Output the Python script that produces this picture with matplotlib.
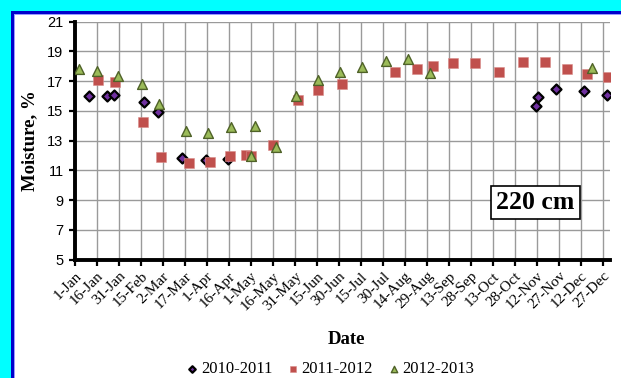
import matplotlib.pyplot as plt
from matplotlib.patches import Rectangle
from matplotlib.transforms import ScaledTranslation

# Day of year (0 = 1-Jan) and soil moisture (%) at 220 cm depth
days_2010 = [9.5, 22, 27, 47, 57, 73, 89.5, 104.5, 314.5, 316, 328, 347, 363]
moist_2010 = [16.0, 16.0, 16.05, 15.6, 14.92, 11.84, 11.7, 11.8, 15.35, 15.95, 16.5, 16.35, 16.07]

days_2011 = [15.7, 27.7, 46.8, 58.8, 78, 92, 106, 117, 120, 135, 152, 166, 182,
             218, 233, 244, 258, 273, 289, 305.5, 320.5, 335.5, 349.5, 363.5]
moist_2011 = [17.06, 16.95, 14.24, 11.88, 11.47, 11.6, 11.97, 12.04, 12.0, 12.7, 15.76, 16.39, 16.84,
              17.62, 17.85, 18.05, 18.19, 18.19, 17.6, 18.3, 18.3, 17.8, 17.5, 17.25]

days_2012 = [2.7, 15.4, 29.7, 46, 57.7, 76, 91, 106.7, 120, 123, 137.2, 150.6, 165.6,
             180.8, 196, 212.2, 227, 242.2, 352.4]
moist_2012 = [17.85, 17.67, 17.35, 16.84, 15.49, 13.64, 13.55, 13.9, 12.0, 13.97, 12.55, 16.0, 17.1,
              17.6, 17.96, 18.34, 18.52, 17.56, 17.92]

tick_days = list(range(0, 361, 15))
tick_labels = ['1-Jan', '16-Jan', '31-Jan', '15-Feb', '2-Mar', '17-Mar', '1-Apr', '16-Apr',
               '1-May', '16-May', '31-May', '15-Jun', '30-Jun', '15-Jul', '30-Jul', '14-Aug',
               '29-Aug', '13-Sep', '28-Sep', '13-Oct', '28-Oct', '12-Nov', '27-Nov', '12-Dec',
               '27-Dec']

W, H = 621, 378
fig = plt.figure(figsize=(W / 100, H / 100), dpi=100)
fig.patch.set_facecolor('white')


def strip(x0, y0, x1, y1, color):
    # rectangle given in pixels from the top-left corner
    fig.add_artist(Rectangle((x0 / W, 1 - y1 / H), (x1 - x0) / W, (y1 - y0) / H,
                             transform=fig.transFigure, facecolor=color,
                             edgecolor='none', zorder=-1))


# cyan margin with a blue frame along the top and left
strip(0, 0, W, 11, '#00FFFF')
strip(0, 0, 11, H, '#00FFFF')
strip(11, 11, W, 14, '#0000CC')
strip(11, 11, 14, H, '#0000CC')
strip(14, 14, W, 15, '#9999FF')
strip(14, 14, 15, H, '#9999FF')

ax = fig.add_axes([74.7 / W, 1 - 259.7 / H, (610.2 - 74.7) / W, (259.7 - 21.7) / H])
ax.set_facecolor('none')

ax.scatter(days_2010, moist_2010, marker='D', s=26, facecolor='#7030A0',
           edgecolor='black', linewidth=1.6, zorder=3, label='2010-2011')
ax.scatter(days_2011, moist_2011, marker='s', s=48, facecolor='#C0504D',
           edgecolor='#D88C8A', linewidth=0.4, zorder=3, label='2011-2012')
ax.scatter(days_2012, moist_2012, marker='^', s=50, facecolor='#9BBB59',
           edgecolor='#4F6228', linewidth=1.0, zorder=4, label='2012-2013')

ax.set_xlim(0, 365)
ax.set_ylim(5, 21)
ax.set_yticks(range(5, 22, 2))
ax.set_xticks(tick_days)
ax.set_xticklabels(tick_labels, rotation=45, ha='right', rotation_mode='anchor',
                   family='Liberation Serif', fontsize=11)
shift = ScaledTranslation(8 / 100, -3 / 100, fig.dpi_scale_trans)
for lbl in ax.get_xticklabels():
    lbl.set_transform(lbl.get_transform() + shift)
for lbl in ax.get_yticklabels():
    lbl.set_family('Liberation Sans')
    lbl.set_fontsize(10.5)

ax.grid(True, color='#9a9a9a', linewidth=1.0)
ax.set_axisbelow(True)
ax.spines[['top', 'right']].set_visible(False)
ax.spines['left'].set_linewidth(2.8)
ax.spines['bottom'].set_linewidth(2.8)
ax.tick_params(axis='both', direction='out', length=4, width=1.6, color='black', pad=3)
ax.tick_params(axis='y', pad=4)

ax.set_ylabel('Moisture, %', family='Liberation Serif', fontweight='bold', fontsize=13.5)
ax.yaxis.set_label_coords(-0.068, 0.5)
fig.text(346 / W, 1 - 340 / H, 'Date', family='Liberation Serif', fontweight='bold',
         fontsize=13.5, ha='center', va='center')

fig.text(535.3 / W, 1 - 202.5 / H, '220 cm', family='Liberation Serif', fontweight='bold',
         fontsize=18.5, ha='center', va='center',
         bbox=dict(boxstyle='square,pad=0.2', facecolor='white', edgecolor='black', linewidth=1.2))

fig.legend(loc='center', bbox_to_anchor=(331 / W, 1 - 369 / H), ncol=3, frameon=False,
           prop={'family': 'Liberation Serif', 'size': 12}, handlelength=0.5,
           handletextpad=0.25, columnspacing=1.0, markerscale=0.65, borderaxespad=0)

fig.savefig('out.png', dpi=100, facecolor=fig.get_facecolor())
